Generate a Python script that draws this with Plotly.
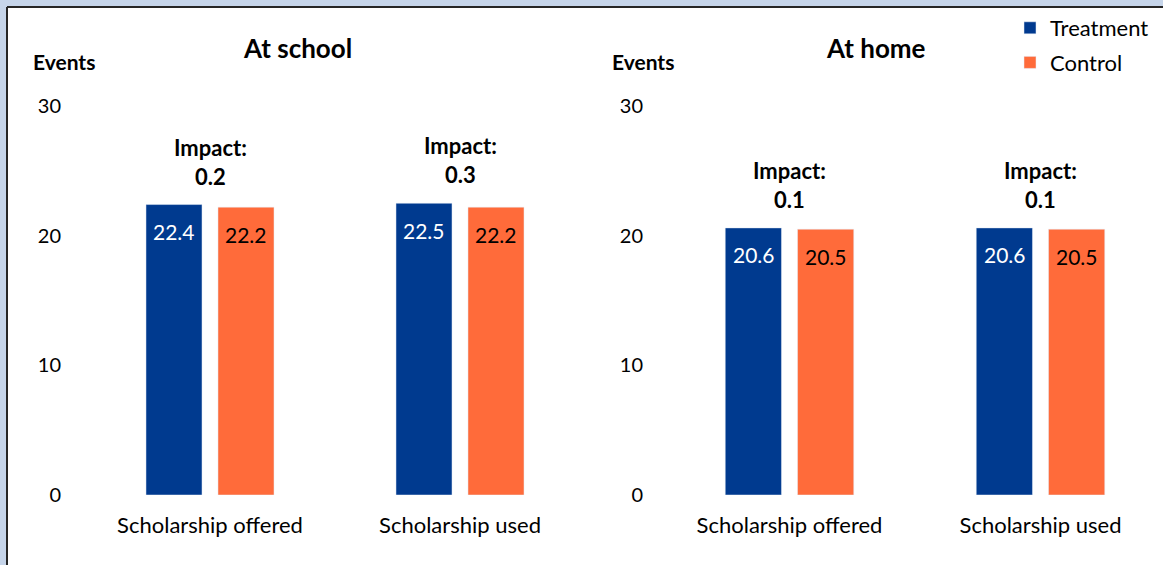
import plotly.graph_objects as go

W, H = 1163, 565

categories = ["Scholarship offered", "Scholarship used"]
school_treatment = [22.4, 22.5]
school_control = [22.2, 22.2]
school_impact = ["0.2", "0.3"]
home_treatment = [20.6, 20.6]
home_control = [20.5, 20.5]
home_impact = ["0.1", "0.1"]
y_ticks = [0, 10, 20, 30]
panel_titles = ["At school", "At home"]
y_title = "Events"

BLUE = "#003A8F"
ORANGE = "#FF6B3A"
FONT = "Lato"

def px_x(x):
    return x / W

def px_y(y):
    return 1 - y / H

fig = go.Figure()

panels = [
    (school_treatment, school_control, school_impact, "x", "y"),
    (home_treatment, home_control, home_impact, "x2", "y2"),
]

for i, (tr, ct, imp, xa, ya) in enumerate(panels):
    fig.add_trace(go.Bar(x=categories, y=tr, name="Treatment", marker_color=BLUE,
                         xaxis=xa, yaxis=ya, showlegend=(i == 0), legendgroup="t"))
    fig.add_trace(go.Bar(x=categories, y=ct, name="Control", marker_color=ORANGE,
                         xaxis=xa, yaxis=ya, showlegend=(i == 0), legendgroup="c"))
    for c, tv, cv, iv in zip(categories, tr, ct, imp):
        fig.add_annotation(x=c, y=tv, xref=xa, yref=ya, text=f"{tv:.1f}", showarrow=False,
                           xshift=-36, yshift=-27, yanchor="middle",
                           font=dict(family=FONT, size=21, color="white"))
        fig.add_annotation(x=c, y=cv, xref=xa, yref=ya, text=f"{cv:.1f}", showarrow=False,
                           xshift=36, yshift=-27, yanchor="middle",
                           font=dict(family=FONT, size=21, color="black"))
        fig.add_annotation(x=c, y=max(tv, cv), xref=xa, yref=ya,
                           text=f"<b>Impact:</b><br><b>{iv}</b>", showarrow=False,
                           yshift=13, yanchor="bottom",
                           font=dict(family=FONT, size=22, color="black"))

# panel titles and y titles
for tx, ex, t in [(297, 64, panel_titles[0]), (876, 643, panel_titles[1])]:
    fig.add_annotation(x=px_x(tx), y=px_y(48), xref="paper", yref="paper", text=f"<b>{t}</b>",
                       showarrow=False, xanchor="center", yanchor="middle",
                       font=dict(family=FONT, size=26, color="black"))
    fig.add_annotation(x=px_x(ex), y=px_y(62), xref="paper", yref="paper", text=f"<b>{y_title}</b>",
                       showarrow=False, xanchor="center", yanchor="middle",
                       font=dict(family=FONT, size=21, color="black"))

ydom = [px_y(495), px_y(106)]
yaxis_common = dict(range=[0, 30], tickvals=y_ticks, showgrid=False, zeroline=False,
                    showline=False, ticks="", tickfont=dict(family=FONT, size=20, color="black"),
                    domain=ydom, ticklabelstandoff=8, fixedrange=True, automargin=False)
xaxis_common = dict(showgrid=False, zeroline=False, showline=False, ticks="",
                    tickfont=dict(family=FONT, size=22, color="black"),
                    ticklabelstandoff=15, fixedrange=True, automargin=False)

lx0, lx1 = 70, 590
rx0, rx1 = 652, 1163
fig.update_layout(
    width=W, height=H,
    margin=dict(l=0, r=0, t=0, b=0, autoexpand=False),
    paper_bgcolor="white", plot_bgcolor="rgba(0,0,0,0)",
    barmode="group", bargap=0.424, bargroupgap=0.222,
    xaxis=dict(domain=[px_x(lx0), px_x(lx1)],
               range=[-(210 - lx0) / 250, (lx1 - 210) / 250], anchor="y", **xaxis_common),
    yaxis=dict(anchor="x", **yaxis_common),
    xaxis2=dict(domain=[px_x(rx0), px_x(rx1)],
                range=[-(789.5 - rx0) / 251, (rx1 - 789.5) / 251], anchor="y2", **xaxis_common),
    yaxis2=dict(anchor="x2", **yaxis_common),
    legend=dict(x=px_x(1010), y=px_y(7), xanchor="left", yanchor="top",
                font=dict(family=FONT, size=22, color="black"), bgcolor="rgba(0,0,0,0)",
                tracegroupgap=3, itemwidth=30),
    shapes=[
        dict(type="rect", xref="paper", yref="paper", x0=0, x1=px_x(7), y0=0, y1=1,
             fillcolor="#C6D5EA", line_width=0, layer="above"),
        dict(type="rect", xref="paper", yref="paper", x0=0, x1=1, y0=px_y(7), y1=1,
             fillcolor="#C6D5EA", line_width=0, layer="above"),
        dict(type="line", xref="paper", yref="paper", x0=px_x(7), x1=px_x(7), y0=0, y1=px_y(7),
             line=dict(color="#262626", width=2), layer="above"),
        dict(type="line", xref="paper", yref="paper", x0=px_x(7), x1=1, y0=px_y(7), y1=px_y(7),
             line=dict(color="#262626", width=2), layer="above"),
    ],
)

fig.write_html("out.html", config={"displayModeBar": False},
               post_script="document.body.style.margin='0';document.body.style.overflow='hidden';")
